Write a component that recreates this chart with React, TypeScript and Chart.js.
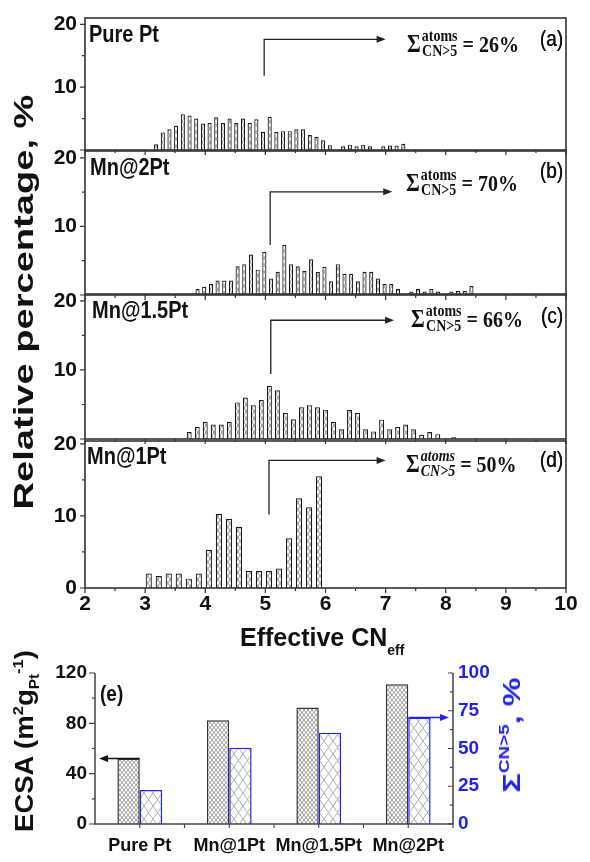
import React, { useEffect, useRef } from 'react';
import { Chart, registerables } from 'chart.js';

Chart.register(...registerables);

// ---------------- data ----------------
const cnPurePt = [3.183, 3.294, 3.405, 3.516, 3.627, 3.739, 3.85, 3.961, 4.072, 4.183, 4.294, 4.405, 4.516, 4.627, 4.739, 4.85, 4.961, 5.072, 5.183, 5.294, 5.405, 5.516, 5.627, 5.739, 5.85, 5.961, 6.072, 6.183, 6.294, 6.405, 6.516, 6.627, 6.739, 6.85, 6.961, 7.072, 7.183, 7.294];
const pctPurePt = [0.9, 2.8, 3.3, 3.85, 5.7, 5.5, 5.0, 4.2, 4.3, 5.2, 4.3, 5.0, 4.3, 5.0, 4.3, 4.9, 2.9, 5.3, 2.9, 3.0, 3.0, 3.3, 3.3, 2.4, 2.1, 1.55, 0.75, 0, 0.6, 0.85, 0.6, 0.85, 0.6, 0, 0.6, 0.7, 0.7, 1.0];

const cnMn2Pt = [3.872, 3.983, 4.094, 4.205, 4.316, 4.427, 4.538, 4.649, 4.761, 4.872, 4.983, 5.094, 5.205, 5.316, 5.427, 5.538, 5.649, 5.761, 5.872, 5.983, 6.094, 6.205, 6.316, 6.427, 6.538, 6.649, 6.761, 6.872, 6.983, 7.094, 7.205, 7.316, 7.427, 7.538, 7.649, 7.761, 7.872, 7.983, 8.094, 8.205, 8.316, 8.427];
const pctMn2Pt = [0.9, 1.2, 1.6, 2.1, 2.1, 2.1, 4.2, 4.5, 5.9, 3.7, 6.3, 2.4, 3.4, 7.3, 4.5, 4.2, 3.5, 5.2, 3.35, 4.1, 2.0, 4.5, 3.1, 3.1, 2.0, 3.4, 3.4, 2.4, 1.65, 1.65, 0.9, 0, 0.5, 0.9, 0.5, 0.9, 0.5, 0, 0.5, 0.6, 0.6, 1.3];

const cnMn15Pt = [3.733, 3.867, 4.0, 4.133, 4.267, 4.4, 4.533, 4.667, 4.8, 4.933, 5.067, 5.2, 5.333, 5.467, 5.6, 5.733, 5.867, 6.0, 6.133, 6.267, 6.4, 6.533, 6.667, 6.8, 6.933, 7.067, 7.2, 7.333, 7.467, 7.6, 7.733, 7.867, 8.0, 8.133];
const pctMn15Pt = [1.0, 1.75, 2.5, 2.1, 2.1, 2.5, 5.3, 6.0, 4.9, 5.65, 7.7, 7.05, 3.8, 2.85, 4.6, 4.9, 4.6, 4.25, 2.5, 1.4, 4.2, 3.8, 1.4, 1.1, 2.8, 1.4, 1.75, 2.1, 1.4, 0.6, 1.0, 0.7, 0, 0.25];

const cnMn1Pt = [3.06, 3.227, 3.393, 3.56, 3.727, 3.893, 4.06, 4.227, 4.393, 4.56, 4.727, 4.893, 5.06, 5.227, 5.393, 5.56, 5.727, 5.893];
const pctMn1Pt = [2.0, 1.65, 2.0, 2.0, 1.3, 2.0, 5.3, 10.3, 9.6, 8.5, 2.35, 2.35, 2.35, 2.7, 6.9, 12.45, 11.2, 15.5];

const xTickValues = [2, 3, 4, 5, 6, 7, 8, 9, 10];
const histYTicks = [0, 10, 20];

const panelNames = ['Pure Pt', 'Mn@2Pt', 'Mn@1.5Pt', 'Mn@1Pt'];
const panelTags = ['(a)', '(b)', '(c)', '(d)'];
const panelSums = ['26%', '70%', '66%', '50%'];

const samples = ['Pure Pt', 'Mn@1Pt', 'Mn@1.5Pt', 'Mn@2Pt'];
const ecsaValues = [52, 82.5, 92.5, 111];
const sumCN5Values = [22.5, 50.5, 60.5, 70.5];
const ecsaTicks = [0, 40, 80, 120];
const sumTicks = [0, 25, 50, 75, 100];

// ---------------- styles / layout ----------------
const W = 590;
const FONT = '"Liberation Sans", Arial, Helvetica, sans-serif';
const SERIF = '"Liberation Serif", "Times New Roman", serif';
const INK = '#111';
const BLUE = '#2222ee';

type Panel = {
  cn: number[];
  pct: number[];
  top: number;
  bottom: number;
  ymax: number;
  showZero: boolean;
  xAxis: boolean;
  arrow: [number, number, number, number];
  nameX: number;
  nameY: number;
  tagY: number;
  fx: number;
  fy: number;
  italic: boolean;
};

const panels: Panel[] = [
  { cn: cnPurePt, pct: pctPurePt, top: 18, bottom: 150, ymax: 21, showZero: false, xAxis: false, arrow: [4.98, 11.8, 17.6, 7.0], nameX: 89, nameY: 35, tagY: 38.5, fx: 407, fy: 44, italic: false },
  { cn: cnMn2Pt, pct: pctMn2Pt, top: 151, bottom: 295, ymax: 21, showZero: false, xAxis: false, arrow: [5.08, 7.3, 15.05, 7.11], nameX: 90, nameY: 167.5, tagY: 171, fx: 406, fy: 182.5, italic: false },
  { cn: cnMn15Pt, pct: pctMn15Pt, top: 294, bottom: 439, ymax: 21, showZero: false, xAxis: false, arrow: [5.09, 9.4, 17.2, 7.14], nameX: 92, nameY: 311, tagY: 316, fx: 411, fy: 319, italic: false },
  { cn: cnMn1Pt, pct: pctMn1Pt, top: 441, bottom: 588, ymax: 20.4, showZero: true, xAxis: true, arrow: [5.06, 10.2, 17.7, 7.0], nameX: 87, nameY: 457, tagY: 460, fx: 406, fy: 464, italic: true },
];

const PAD = 12;
const XAXIS_H = 36;

function canvasBox(p: Panel) {
  const top = p.top - PAD;
  const height = p.bottom - top + (p.xAxis ? XAXIS_H : PAD);
  return { top, height };
}

const ECSA_TOP = 650;
const ECSA_H = 212;

function makeHatch(w: number, h: number, bg: string, line: string, lw: number): CanvasPattern {
  const c = document.createElement('canvas');
  c.width = w;
  c.height = h;
  const g = c.getContext('2d')!;
  g.fillStyle = bg;
  g.fillRect(0, 0, w, h);
  g.strokeStyle = line;
  g.lineWidth = lw;
  g.beginPath();
  g.moveTo(0, 0);
  g.lineTo(w, h);
  g.moveTo(w, 0);
  g.lineTo(0, h);
  g.stroke();
  return g.createPattern(c, 'repeat')!;
}

function drawArrowHead(ctx: CanvasRenderingContext2D, x: number, y: number, dir: number, color: string) {
  ctx.save();
  ctx.fillStyle = color;
  ctx.beginPath();
  ctx.moveTo(x, y);
  ctx.lineTo(x - dir * 9, y - 3.5);
  ctx.lineTo(x - dir * 9, y + 3.5);
  ctx.closePath();
  ctx.fill();
  ctx.restore();
}

function histConfig(p: Panel): any {
  const hatch = makeHatch(4, 7, '#ffffff', '#7a7a7a', 0.75);
  const deco = {
    id: 'deco',
    afterDatasetsDraw(chart: any) {
      const { ctx, chartArea: a, scales } = chart;
      const x = scales.x;
      const y = scales.y;
      ctx.save();
      ctx.strokeStyle = '#333';
      ctx.lineWidth = 1.6;
      ctx.strokeRect(a.left, a.top, a.right - a.left, a.bottom - a.top);
      ctx.lineWidth = 1.2;
      ctx.beginPath();
      for (let v = 0; v <= 20; v += 5) {
        const py = y.getPixelForValue(v);
        const len = v % 10 === 0 ? 5 : 3;
        ctx.moveTo(a.left - len, py);
        ctx.lineTo(a.left, py);
      }
      for (let v = 2; v <= 10; v += 0.5) {
        const px = x.getPixelForValue(v);
        const len = Number.isInteger(v) ? 5 : 3;
        ctx.moveTo(px, a.bottom);
        ctx.lineTo(px, a.bottom + len);
      }
      ctx.stroke();
      // arrow
      const [ax, ay0, ay1, ax1] = p.arrow;
      const px0 = x.getPixelForValue(ax);
      const py0 = y.getPixelForValue(ay0);
      const py1 = y.getPixelForValue(ay1);
      const px1 = x.getPixelForValue(ax1);
      ctx.strokeStyle = '#222';
      ctx.lineWidth = 1.3;
      ctx.beginPath();
      ctx.moveTo(px0, py0);
      ctx.lineTo(px0, py1);
      ctx.lineTo(px1 - 6, py1);
      ctx.stroke();
      drawArrowHead(ctx, px1, py1, 1, '#222');
      ctx.restore();
    },
  };
  const tickFont = { family: FONT, size: 21, weight: 'bold' as const };
  return {
    type: 'bar',
    data: {
      datasets: [
        {
          data: p.cn.map((cx, k) => ({ x: cx, y: p.pct[k] })),
          backgroundColor: hatch,
          borderColor: '#1a1a1a',
          borderWidth: 1.2,
          categoryPercentage: 1,
          barPercentage: 0.62,
        },
      ],
    },
    options: {
      animation: false,
      responsive: false,
      devicePixelRatio: 1,
      layout: { padding: { top: PAD, bottom: p.xAxis ? 0 : PAD, left: 0, right: 24 } },
      plugins: { legend: { display: false }, tooltip: { enabled: false } },
      scales: {
        x: {
          type: 'linear',
          min: 2,
          max: 10,
          offset: false,
          display: p.xAxis,
          grid: { display: false, drawTicks: false },
          border: { display: false },
          ticks: { font: tickFont, color: INK, padding: 4, maxRotation: 0, autoSkip: false },
          afterBuildTicks: (s: any) => {
            s.ticks = xTickValues.map((v) => ({ value: v }));
          },
          afterFit: (s: any) => {
            if (p.xAxis) s.height = XAXIS_H;
            s.paddingLeft = 0;
            s.paddingRight = 0;
          },
        },
        y: {
          min: 0,
          max: p.ymax,
          grid: { display: false, drawTicks: false },
          border: { display: false },
          ticks: {
            font: tickFont,
            color: INK,
            padding: 8,
            callback: (v: number) => (v === 0 && !p.showZero ? '' : String(v)),
          },
          afterBuildTicks: (s: any) => {
            s.ticks = histYTicks.map((v) => ({ value: v }));
          },
          afterFit: (s: any) => {
            s.width = 85;
            s.paddingTop = 0;
            s.paddingBottom = 0;
          },
        },
      },
    },
    plugins: [deco],
  };
}

function ecsaConfig(): any {
  const dense = makeHatch(4, 5, '#ffffff', '#939393', 0.9);
  const open = makeHatch(9, 13, '#ffffff', '#a6a6a6', 0.9);
  const deco = {
    id: 'decoE',
    afterDatasetsDraw(chart: any) {
      const { ctx, chartArea: a, scales } = chart;
      const y = scales.y;
      const y1 = scales.y1;
      const x = scales.x;
      ctx.save();
      ctx.strokeStyle = '#444';
      ctx.lineWidth = 1.5;
      ctx.beginPath();
      ctx.moveTo(a.left, a.top);
      ctx.lineTo(a.left, a.bottom);
      ctx.lineTo(a.right, a.bottom);
      ctx.lineTo(a.right, a.top);
      ctx.stroke();
      ctx.lineWidth = 1.1;
      ctx.beginPath();
      for (let v = 0; v <= 120; v += 20) {
        const py = y.getPixelForValue(v);
        const len = v % 40 === 0 ? 6 : 3;
        ctx.moveTo(a.left - len, py);
        ctx.lineTo(a.left, py);
      }
      for (let v = 0; v <= 100; v += 12.5) {
        const py = y1.getPixelForValue(v);
        const len = v % 25 === 0 ? 5 : 3;
        ctx.moveTo(a.right - len, py);
        ctx.lineTo(a.right, py);
      }
      const n = samples.length;
      for (let i = 0; i < n; i++) {
        const c = x.getPixelForValue(i);
        const half = (a.right - a.left) / n / 2;
        ctx.moveTo(c, a.bottom);
        ctx.lineTo(c, a.bottom + 4);
        ctx.moveTo(c + half, a.bottom);
        ctx.lineTo(c + half, a.bottom + 4);
      }
      ctx.stroke();
      // arrows
      const m0 = chart.getDatasetMeta(0).data[0];
      const m1 = chart.getDatasetMeta(1).data[n - 1];
      ctx.strokeStyle = '#111';
      ctx.lineWidth = 1.4;
      ctx.beginPath();
      ctx.moveTo(m0.x + m0.width / 2, m0.y);
      ctx.lineTo(a.left + 10, m0.y);
      ctx.stroke();
      drawArrowHead(ctx, a.left + 4, m0.y, -1, '#111');
      ctx.strokeStyle = BLUE;
      ctx.beginPath();
      ctx.moveTo(m1.x - m1.width / 2, m1.y);
      ctx.lineTo(a.right - 10, m1.y);
      ctx.stroke();
      drawArrowHead(ctx, a.right - 4, m1.y, 1, BLUE);
      ctx.restore();
    },
  };
  return {
    type: 'bar',
    data: {
      labels: samples,
      datasets: [
        {
          data: ecsaValues,
          yAxisID: 'y',
          backgroundColor: dense,
          borderColor: '#333',
          borderWidth: 1.5,
          categoryPercentage: 0.5,
          barPercentage: 1,
        },
        {
          data: sumCN5Values,
          yAxisID: 'y1',
          backgroundColor: open,
          borderColor: BLUE,
          borderWidth: 1.5,
          categoryPercentage: 0.5,
          barPercentage: 1,
        },
      ],
    },
    options: {
      animation: false,
      responsive: false,
      devicePixelRatio: 1,
      layout: { padding: { top: 23, bottom: 0, left: 0, right: 0 } },
      plugins: { legend: { display: false }, tooltip: { enabled: false } },
      scales: {
        x: {
          grid: { display: false, drawTicks: false },
          border: { display: false },
          ticks: { font: { family: FONT, size: 18, weight: 'bold' }, color: INK, padding: 11, maxRotation: 0, autoSkip: false },
          afterFit: (s: any) => {
            s.height = 38;
            s.paddingLeft = 0;
            s.paddingRight = 0;
          },
        },
        y: {
          position: 'left',
          min: 0,
          max: 120,
          grid: { display: false, drawTicks: false },
          border: { display: false },
          ticks: { font: { family: FONT, size: 19, weight: 'bold' }, color: INK, padding: 8 },
          afterBuildTicks: (s: any) => {
            s.ticks = ecsaTicks.map((v) => ({ value: v }));
          },
          afterFit: (s: any) => {
            s.width = 95;
            s.paddingTop = 0;
            s.paddingBottom = 0;
          },
        },
        y1: {
          position: 'right',
          min: 0,
          max: 100,
          grid: { display: false, drawTicks: false },
          border: { display: false },
          ticks: { font: { family: FONT, size: 19, weight: 'bold' }, color: BLUE, padding: 5 },
          afterBuildTicks: (s: any) => {
            s.ticks = sumTicks.map((v) => ({ value: v }));
          },
          afterFit: (s: any) => {
            s.width = W - 453;
            s.paddingTop = 0;
            s.paddingBottom = 0;
          },
        },
      },
    },
    plugins: [deco],
  };
}

const abs = (extra: React.CSSProperties): React.CSSProperties => ({
  position: 'absolute',
  whiteSpace: 'pre',
  lineHeight: 1,
  color: INK,
  ...extra,
});

export default function App() {
  const canvasRefs = useRef<(HTMLCanvasElement | null)[]>([]);

  useEffect(() => {
    document.body.style.margin = '0';
    const charts: Chart[] = [];
    panels.forEach((p, i) => {
      const el = canvasRefs.current[i];
      if (el) charts.push(new Chart(el, histConfig(p)));
    });
    const e = canvasRefs.current[4];
    if (e) charts.push(new Chart(e, ecsaConfig()));
    return () => charts.forEach((c) => c.destroy());
  }, []);

  return (
    <div style={{ position: 'absolute', left: 0, top: 0, width: W, height: 862, background: '#fff', overflow: 'hidden', fontFamily: FONT }}>
      {panels.map((p, i) => {
        const b = canvasBox(p);
        return (
          <canvas
            key={'c' + i}
            ref={(el) => {
              canvasRefs.current[i] = el;
            }}
            width={W}
            height={b.height}
            style={{ position: 'absolute', left: 0, top: b.top, width: W, height: b.height, display: 'block' }}
          />
        );
      })}
      <canvas
        ref={(el) => {
          canvasRefs.current[4] = el;
        }}
        width={W}
        height={ECSA_H}
        style={{ position: 'absolute', left: 0, top: ECSA_TOP, width: W, height: ECSA_H, display: 'block' }}
      />

      {/* panel texts */}
      {panels.map((p, i) => (
        <React.Fragment key={'t' + i}>
          <div
            style={abs({
              left: p.nameX,
              top: p.nameY,
              font: `bold 20px ${FONT}`,
              transform: 'translateY(-50%) scaleY(1.15)',
              transformOrigin: 'left center',
            })}
          >
            {panelNames[i]}
          </div>
          <div
            style={abs({
              left: 563,
              top: p.tagY,
              font: `19px ${FONT}`,
              transform: 'translate(-100%, -50%) scaleY(1.15)',
              transformOrigin: 'right center',
              textShadow: '0.3px 0 0 #111',
            })}
          >
            {panelTags[i]}
          </div>
          <div
            style={abs({
              left: p.fx,
              top: p.fy,
              display: 'flex',
              alignItems: 'center',
              font: `bold 20px ${SERIF}`,
              transform: 'translateY(-50%) scaleY(1.15)',
              transformOrigin: 'left center',
            })}
          >
            <span style={{ fontSize: 21 }}>Σ</span>
            <span
              style={{
                display: 'inline-flex',
                flexDirection: 'column',
                alignItems: 'center',
                fontSize: 14,
                lineHeight: 0.95,
                marginLeft: 1,
                fontStyle: p.italic ? 'italic' : 'normal',
              }}
            >
              <span>atoms</span>
              <span>CN&gt;5</span>
            </span>
            <span>{' = ' + panelSums[i]}</span>
          </div>
        </React.Fragment>
      ))}

      {/* y title of histograms */}
      <div
        style={abs({
          left: 24,
          top: 302,
          font: `bold 28px ${FONT}`,
          transform: 'translate(-50%, -50%) rotate(-90deg) scaleX(1.36)',
        })}
      >
        Relative percentage, %
      </div>

      {/* x title */}
      <div style={abs({ left: 240, top: 623, font: `bold 25px ${FONT}` })}>
        Effective CN
        <span style={{ fontSize: 14, position: 'relative', top: 9 }}>eff</span>
      </div>

      {/* (e) panel label */}
      <div
        style={abs({
          left: 100,
          top: 694,
          font: `bold 19px ${FONT}`,
          transform: 'translateY(-50%) scaleY(1.2)',
          transformOrigin: 'left center',
        })}
      >
        (e)
      </div>

      {/* ECSA title */}
      <div
        style={abs({
          left: 24,
          top: 741,
          font: `bold 25px ${FONT}`,
          transform: 'translate(-50%, -50%) rotate(-90deg) scaleX(1.1)',
        })}
      >
        ECSA (m<span style={{ fontSize: 15, position: 'relative', top: -10 }}>2</span>g
        <span style={{ fontSize: 14, position: 'relative', top: 6 }}>Pt</span>
        <span style={{ fontSize: 15, position: 'relative', top: -10 }}>-1</span>)
      </div>

      {/* right title */}
      <div
        style={abs({
          left: 512,
          top: 735,
          color: BLUE,
          font: `bold 24px ${FONT}`,
          transform: 'translate(-50%, -50%) rotate(-90deg) scaleX(1.35)',
        })}
      >
        Σ<span style={{ fontSize: 14, position: 'relative', top: -11 }}>CN&gt;5</span>, %
      </div>
    </div>
  );
}
